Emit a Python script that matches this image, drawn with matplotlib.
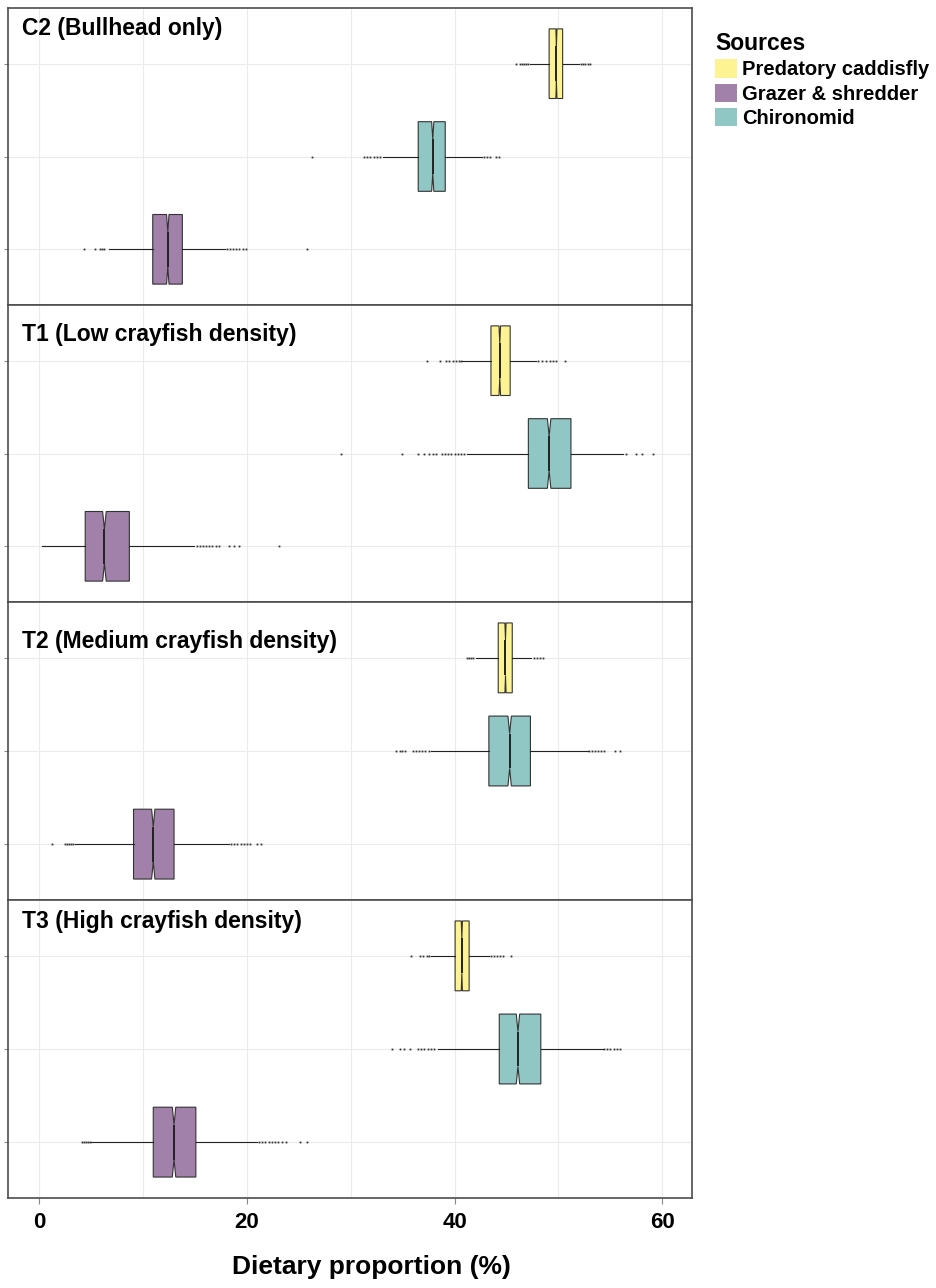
import numpy as np
import matplotlib
matplotlib.use("Agg")
import matplotlib.pyplot as plt
from matplotlib.patches import Patch

plt.rcParams['font.family'] = ['Liberation Sans', 'DejaVu Sans']

# ---------------- data ----------------
panels = ["C2 (Bullhead only)", "T1 (Low crayfish density)",
          "T2 (Medium crayfish density)", "T3 (High crayfish density)"]
sources = ["Predatory caddisfly", "Grazer & shredder", "Chironomid"]
# vertical positions: grazer bottom (1), chironomid (2), caddisfly (3)
source_pos = {"Grazer & shredder": 1, "Chironomid": 2, "Predatory caddisfly": 3}
n_draws = 1500

# per panel, per source: [whislo, q1, med, q3, whishi]
caddis_stats = [
    [47.3, 49.1, 49.8, 50.4, 52.0],
    [40.75, 43.5, 44.35, 45.35, 47.85],
    [42.05, 44.2, 44.9, 45.55, 47.4],
    [37.7, 40.05, 40.7, 41.4, 43.3],
]
grazer_stats = [
    [6.7, 10.95, 12.4, 13.8, 17.9],
    [0.33, 4.45, 6.3, 8.7, 14.95],
    [3.5, 9.1, 11.0, 13.0, 18.3],
    [5.05, 11.0, 13.0, 15.1, 21.0],
]
chiro_stats = [
    [33.1, 36.5, 37.9, 39.1, 42.6],
    [41.2, 47.1, 49.1, 51.2, 56.2],
    [37.7, 43.3, 45.3, 47.3, 52.8],
    [38.4, 44.3, 46.1, 48.3, 54.3],
]
caddis_fliers = [
    [45.9, 46.3, 46.5, 46.7, 46.9, 47.1, 52.2, 52.4, 52.6, 52.8, 53.0],
    [37.3, 38.6, 39.2, 39.5, 39.8, 40.1, 40.4, 40.6, 48.0, 48.4, 48.8, 49.2, 49.5, 49.8, 50.6],
    [41.2, 41.4, 41.6, 41.8, 47.6, 47.9, 48.2, 48.5],
    [35.8, 36.7, 37.0, 37.3, 37.5, 43.5, 43.8, 44.1, 44.4, 44.7, 45.4],
]
grazer_fliers = [
    [4.3, 5.4, 5.9, 6.1, 6.3, 18.1, 18.4, 18.7, 19.0, 19.3, 19.6, 19.9, 25.8],
    [15.2, 15.5, 15.8, 16.1, 16.4, 16.7, 17.0, 17.3, 18.3, 18.8, 19.25, 23.1],
    [1.3, 2.5, 2.7, 2.9, 3.1, 3.3, 18.5, 18.8, 19.1, 19.4, 19.7, 20.0, 20.3, 21.0, 21.4],
    [4.1, 4.3, 4.5, 4.7, 4.9, 21.2, 21.5, 21.8, 22.1, 22.4, 22.7, 23.0, 23.4, 23.8, 25.1, 25.8],
]
chiro_fliers = [
    [26.3, 31.3, 31.6, 31.9, 32.2, 32.5, 32.8, 42.8, 43.1, 43.4, 44.0, 44.3],
    [29.1, 34.9, 36.5, 37.1, 37.5, 37.9, 38.2, 38.8, 39.1, 39.4, 39.7, 40.0, 40.3, 40.6, 40.9,
     56.5, 57.5, 58.0, 59.1],
    [34.4, 34.7, 34.9, 35.2, 36.0, 36.3, 36.6, 36.9, 37.2, 37.5, 52.9, 53.2, 53.5, 53.8, 54.1,
     54.4, 55.4, 55.9],
    [34.0, 34.7, 35.1, 35.7, 36.5, 36.8, 37.1, 37.4, 37.7, 38.0, 54.4, 54.7, 55.0, 55.3, 55.6, 55.9],
]
x_ticks = [0, 20, 40, 60]
x_label = "Dietary proportion (%)"
legend_title = "Sources"

colors = {"Predatory caddisfly": "#FEF392",
          "Grazer & shredder": "#A180A9",
          "Chironomid": "#90C7C5"}

# ---------------- figure ----------------
W, H = 936, 1288
fig = plt.figure(figsize=(W / 100, H / 100), dpi=100)
left_px, right_px = 8, 692
tops_px = [8, 305, 602, 900]
bot_px = 1198
title_drop_px = [9, 18, 28, 10]

stats_by_source = {"Predatory caddisfly": (caddis_stats, caddis_fliers),
                   "Grazer & shredder": (grazer_stats, grazer_fliers),
                   "Chironomid": (chiro_stats, chiro_fliers)}

axes = []
for i, pname in enumerate(panels):
    top = tops_px[i]
    bottom = tops_px[i + 1] if i + 1 < len(tops_px) else bot_px
    ax = fig.add_axes([left_px / W, 1 - bottom / H, (right_px - left_px) / W, (bottom - top) / H])
    axes.append(ax)
    ax.set_xlim(-2.98, 62.85)
    ax.set_ylim(0.4, 3.6)
    ax.set_xticks(x_ticks)
    ax.set_xticks([10, 30, 50], minor=True)
    ax.set_yticks([1, 2, 3])
    ax.grid(True, which='both', axis='x', color='#EBEBEB', lw=0.8)
    ax.grid(True, which='major', axis='y', color='#EBEBEB', lw=0.8)
    ax.set_axisbelow(True)
    ax.tick_params(axis='y', length=3, color='#888888', labelleft=False)
    ax.tick_params(axis='x', which='minor', length=0)
    for s in ax.spines.values():
        s.set_color('#4d4d4d')
        s.set_linewidth(1.2)
    if i < len(panels) - 1:
        ax.tick_params(axis='x', which='major', length=0, labelbottom=False)
    else:
        ax.tick_params(axis='x', which='major', length=4, color='#888888',
                       labelsize=16, pad=6)
        for lab in ax.get_xticklabels():
            lab.set_fontweight('bold')

    for src in sources:
        st, fl = stats_by_source[src]
        wl, q1, med, q3, wh = st[i]
        ci = 1.58 * (q3 - q1) / np.sqrt(n_draws)
        bstat = dict(whislo=wl, q1=q1, med=med, q3=q3, whishi=wh,
                     fliers=np.array(fl[i]), cilo=med - ci, cihi=med + ci)
        ax.bxp([bstat], positions=[source_pos[src]], widths=0.75, vert=False,
               shownotches=True, showcaps=False, patch_artist=True,
               boxprops=dict(facecolor=colors[src], edgecolor='#333333', linewidth=0.8),
               whiskerprops=dict(color='#222222', linewidth=0.8),
               medianprops=dict(color='#222222', linewidth=1.4),
               flierprops=dict(marker='s', markersize=1.3, markerfacecolor='#333333',
                               markeredgecolor='none', linestyle='none'),
               manage_ticks=False)
    ax.text(14 / (right_px - left_px), 1 - title_drop_px[i] / (bottom - top), pname,
            transform=ax.transAxes, ha='left', va='top', fontsize=16.5,
            fontweight='bold', color='black')

fig.text(371 / W, 1 - 1267 / H, x_label, ha='center', va='center',
         fontsize=19, fontweight='bold')

handles = [Patch(facecolor=colors[s], edgecolor='none', label=s) for s in sources]
leg = fig.legend(handles=handles, title=legend_title, loc='upper left',
                 bbox_to_anchor=(707 / W, 1 - 24 / H), frameon=False,
                 prop={'size': 14.5, 'weight': 'bold'},
                 title_fontproperties={'size': 16.5, 'weight': 'bold'},
                 handlelength=1.1, handleheight=1.0, handletextpad=0.25,
                 labelspacing=0.22, borderaxespad=0.0)
leg._legend_box.align = "left"

fig.savefig("out.png", dpi=100, facecolor='white')
